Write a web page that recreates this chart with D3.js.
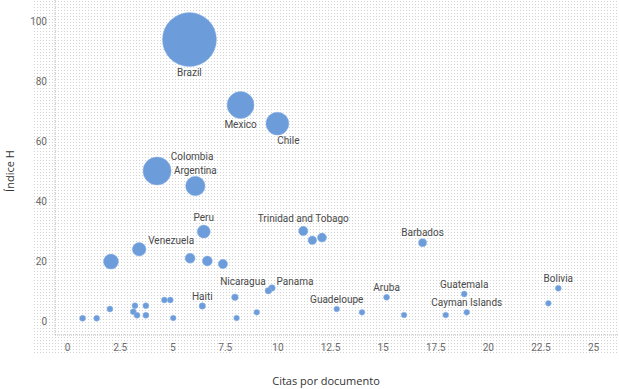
<!DOCTYPE html>
<html>
<head>
<meta charset="utf-8">
<script src="https://cdn.jsdelivr.net/npm/d3@7"></script>
<style>
  body { margin: 0; background: #fff; }
  svg { display: block; }
  .tick text { font-family: Roboto, sans-serif; font-size: 10px; fill: #6a6a6a; }
  .country { font-family: Roboto, sans-serif; font-size: 10px; fill: #4a4a4a; }
  .axis-title { font-family: "Open Sans", sans-serif; font-size: 11px; fill: #333; }
</style>
</head>
<body>
<svg id="chart" width="619" height="389"></svg>
<script>
// citas por documento (x), indice H (y), documentos (bubble size), country label
const citas = [5.82, 8.25, 10.0, 4.28, 6.1, 6.5, 3.43, 2.09, 5.85, 6.67, 7.41, 11.23, 11.66, 12.12, 16.9,
               7.98, 9.74, 9.57, 6.43, 0.74, 1.41, 2.04, 3.15, 3.23, 3.33, 3.75, 3.75, 4.63, 4.91, 5.05,
               8.06, 9.02, 12.82, 14.02, 15.19, 16.02, 18.0, 18.88, 19.0, 23.35, 22.88];
const indiceH = [93.8, 72, 65.8, 50, 45, 29.8, 23.9, 19.8, 20.9, 20, 19, 30, 26.9, 27.8, 26.1,
                 7.9, 11, 10.1, 5, 0.9, 0.9, 4, 3.1, 5.1, 1.9, 5.1, 1.9, 7, 7, 1,
                 1, 2.9, 4, 2.9, 7.9, 2, 2, 9, 2.9, 10.9, 5.9];
const documentos = [100, 25, 18, 27, 13, 5.8, 6.3, 7.7, 3.4, 3.4, 3.0, 3.0, 2.5, 2.8, 2.2,
                    1.5, 1.5, 1.5, 1.4, 1.2, 1.2, 1.2, 1.2, 1.2, 1.2, 1.2, 1.2, 1.2, 1.2, 1.1,
                    1.1, 1.1, 1.1, 1.1, 1.2, 1.1, 1.1, 1.2, 1.1, 1.2, 1.1];
const paises = ["Brazil", "Mexico", "Chile", "Colombia", "Argentina", "Peru", "Venezuela", "", "", "", "", "Trinidad and Tobago", "", "", "Barbados",
                "Nicaragua", "Panama", "", "Haiti", "", "", "", "", "", "", "", "", "", "", "",
                "", "", "Guadeloupe", "", "Aruba", "", "", "Guatemala", "Cayman Islands", "Bolivia", ""];
const xTicks = [0, 2.5, 5, 7.5, 10, 12.5, 15, 17.5, 20, 22.5, 25];
const yTicks = [0, 20, 40, 60, 80, 100];

// where each label sits relative to its bubble (default: just above)
const labelOffset = {
  "Brazil": [0, 33], "Mexico": [0, 19], "Chile": [11, 17], "Colombia": [35, -15],
  "Argentina": [0, -16], "Peru": [0, -14], "Venezuela": [32, -9], "Trinidad and Tobago": [0, -13],
  "Nicaragua": [8, -16], "Panama": [23, -7]
};

const data = citas.map((c, i) => ({x: c, y: indiceH[i], size: documentos[i], name: paises[i]}));

const svg = d3.select("#chart");

// dotted backdrop
const defs = svg.append("defs");
defs.append("pattern")
    .attr("id", "dots")
    .attr("width", 3).attr("height", 3)
    .attr("patternUnits", "userSpaceOnUse")
  .append("rect")
    .attr("x", 1).attr("y", 1)
    .attr("width", 1).attr("height", 1)
    .attr("fill", "#d3d3d3");

svg.append("rect")
    .attr("x", 33).attr("y", 0)
    .attr("width", 586).attr("height", 355)
    .attr("fill", "url(#dots)");

const x = d3.scaleLinear().domain([0, 25]).range([67, 593]);
const y = d3.scaleLinear().domain([0, 100]).range([321, 21]);
const r = d3.scaleSqrt().domain([0, 100]).range([0, 27]);

// axis lines
svg.append("line")
    .attr("x1", 55).attr("x2", 55).attr("y1", 0).attr("y2", 335)
    .attr("stroke", "#bdbdbd").attr("stroke-dasharray", "1,1");
svg.append("line")
    .attr("x1", 55).attr("x2", 619).attr("y1", 335).attr("y2", 335)
    .attr("stroke", "#bdbdbd").attr("stroke-dasharray", "1,1");

svg.append("g")
    .attr("transform", "translate(55,0)")
    .call(d3.axisLeft(y).tickValues(yTicks).tickSize(0).tickPadding(8))
    .call(g => g.select(".domain").remove());

svg.append("g")
    .attr("transform", "translate(0,335)")
    .call(d3.axisBottom(x).tickValues(xTicks).tickSize(0).tickPadding(9).tickFormat(d3.format("")))
    .call(g => g.select(".domain").remove());

// bubbles
svg.append("g")
  .selectAll("circle")
  .data(data)
  .join("circle")
    .attr("cx", d => x(d.x))
    .attr("cy", d => y(d.y))
    .attr("r", d => r(d.size))
    .attr("fill", "#6c9cda")
    .attr("stroke", "#90b5e6")
    .attr("stroke-width", 0.5);

// country labels
svg.append("g")
  .selectAll("text")
  .data(data.filter(d => d.name))
  .join("text")
    .attr("class", "country")
    .attr("x", d => x(d.x) + (labelOffset[d.name] || [0, -10])[0])
    .attr("y", d => y(d.y) + (labelOffset[d.name] || [0, -10])[1])
    .attr("text-anchor", "middle")
    .attr("dominant-baseline", "central")
    .text(d => d.name);

// axis titles
svg.append("text")
    .attr("class", "axis-title")
    .attr("x", 326).attr("y", 385)
    .attr("text-anchor", "middle")
    .text("Citas por documento");

svg.append("text")
    .attr("class", "axis-title")
    .attr("transform", "translate(14,171) rotate(-90)")
    .attr("text-anchor", "middle")
    .text("Índice H");
</script>
</body>
</html>
